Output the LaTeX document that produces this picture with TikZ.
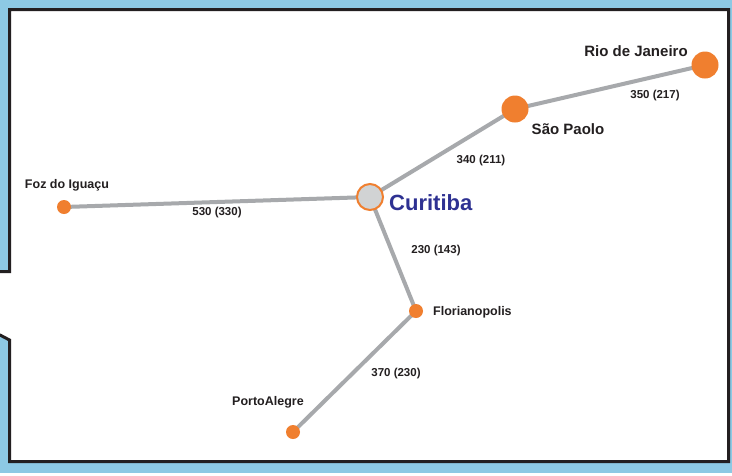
\documentclass[tikz,border=0pt]{standalone}
\usepackage{fontspec}
\setmainfont{Liberation Sans}
\usetikzlibrary{backgrounds}
\definecolor{bgblue}{HTML}{8DC9E4}
\definecolor{dotorange}{HTML}{F07F2F}
\definecolor{linegray}{HTML}{A7A9AC}
\definecolor{hubgray}{HTML}{D1D3D4}
\definecolor{navy}{HTML}{2E3192}
\definecolor{frame}{HTML}{231F20}
\begin{document}
\begin{tikzpicture}[x=1pt,y=-1pt,
  bigcity/.style={circle,fill=dotorange,inner sep=0pt,minimum size=27pt},
  smallcity/.style={circle,fill=dotorange,inner sep=0pt,minimum size=14pt},
  hub/.style={circle,fill=hubgray,draw=dotorange,line width=2pt,inner sep=0pt,minimum size=26pt},
  road/.style={draw=linegray,line width=4pt},
  biglabel/.style={font=\fontsize{15}{17}\selectfont\bfseries,text=frame,inner sep=0pt},
  smalllabel/.style={font=\fontsize{12.5}{14}\selectfont\bfseries,text=frame,inner sep=0pt},
  distlabel/.style={font=\fontsize{11.5}{13}\selectfont\bfseries,text=frame,inner sep=0pt}]
\useasboundingbox (0,0) rectangle (732,475);
% nodes
\node[hub] (cur) at (370,197) {};
\node[bigcity] (sao) at (515,109) {};
\node[bigcity] (rio) at (705,65) {};
\node[smallcity] (foz) at (64,207) {};
\node[smallcity] (flo) at (416,311) {};
\node[smallcity] (poa) at (293,432) {};
\begin{scope}[on background layer]
\fill[white] (0,0) rectangle (732,475);
\fill[bgblue] (0,0) rectangle (732,473);
\begin{scope}
\clip (0,0) rectangle (732,475);
\filldraw[fill=white,draw=frame,line width=3pt]
  (-5,271.5) -- (9.5,271.5) -- (9.5,9.5) -- (728.5,9.5) -- (728.5,461.5)
  -- (9.5,461.5) -- (9.5,340) -- (0,335) -- (-5,335);
\end{scope}
% roads
\path[road] (cur.center) -- (foz.center);
\path[road] (cur.center) -- (sao.center);
\path[road] (sao.center) -- (rio.center);
\path[road] (cur.center) -- (flo.center);
\path[road] (flo.center) -- (poa.center);
\end{scope}
% labels
\node[font=\fontsize{22}{24}\selectfont\bfseries,text=navy,inner sep=0pt,anchor=west] (curl) at (389,203) {Curitiba};
\node[biglabel] (riol) at (636,51) {Rio de Janeiro};
\node[biglabel] (saol) at (568,129) {São Paolo};
\node[smalllabel] (fozl) at (67,185) {Foz do Iguaçu};
\node[smalllabel,anchor=west] (flol) at (433,312) {Florianopolis};
\node[smalllabel] (poal) at (268,402) {PortoAlegre};
\node[distlabel] (d1) at (655,96) {350 (217)};
\node[distlabel] (d2) at (481,161) {340 (211)};
\node[distlabel] (d3) at (217,213) {530 (330)};
\node[distlabel] (d4) at (436,251) {230 (143)};
\node[distlabel] (d5) at (396,374) {370 (230)};
\end{tikzpicture}
\end{document}
